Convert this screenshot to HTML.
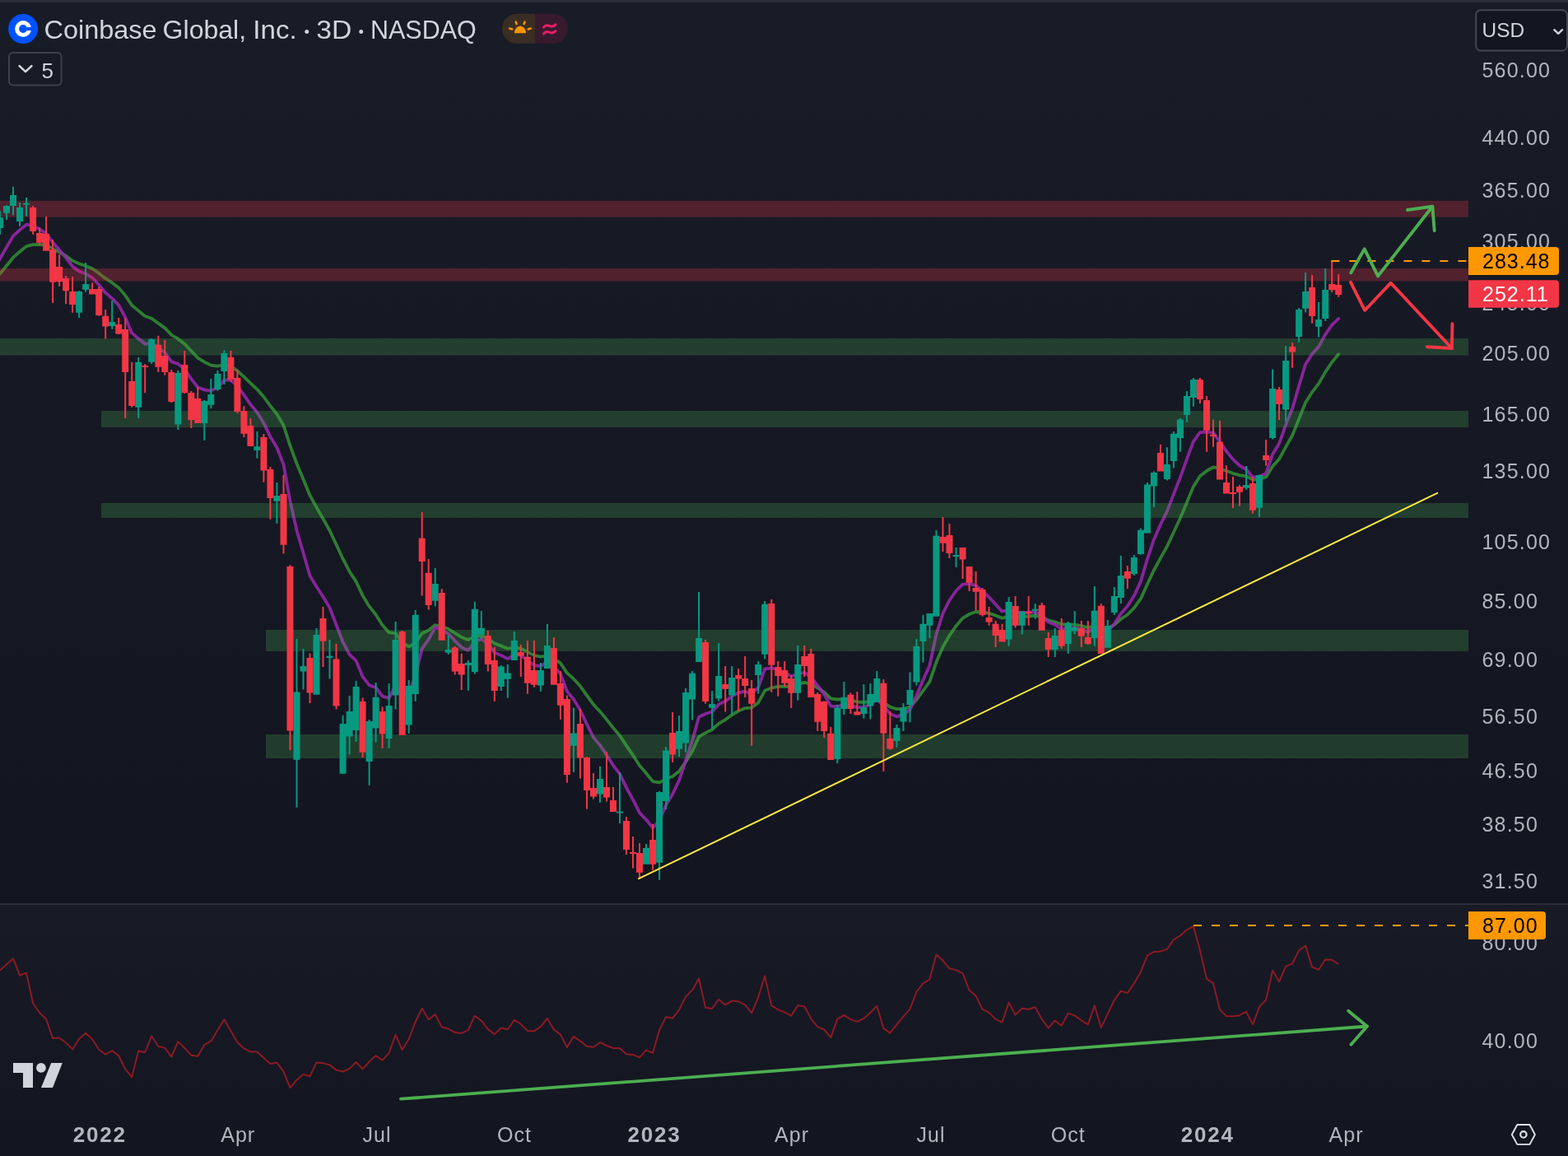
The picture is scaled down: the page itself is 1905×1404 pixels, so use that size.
<!DOCTYPE html>
<html><head><meta charset="utf-8"><title>Coinbase Global, Inc. · 3D · NASDAQ</title>
<style>
html,body{margin:0;padding:0;background:#161a25;overflow:hidden}
svg{display:block}
text{font-family:"Liberation Sans",Arial,sans-serif}
text.sf{font-family:"Liberation Serif",serif}
</style></head><body>
<svg width="1905" height="1404" viewBox="0 0 1905 1404">
<defs>
<linearGradient id="bg1" x1="0" y1="0" x2="0" y2="1"><stop offset="0" stop-color="#181c27"/><stop offset="1" stop-color="#131520"/></linearGradient>
<linearGradient id="bg2" x1="0" y1="0" x2="0" y2="1"><stop offset="0" stop-color="#181b26"/><stop offset="1" stop-color="#131520"/></linearGradient>
<clipPath id="cm"><rect x="0" y="3" width="1784" height="1094"/></clipPath>
<clipPath id="cr"><rect x="0" y="1099" width="1784" height="305"/></clipPath>
</defs>
<rect x="0" y="0" width="1905" height="3" fill="#2a2e39"/>
<rect x="0" y="3" width="1905" height="1094" fill="url(#bg1)"/>
<rect x="0" y="1097" width="1905" height="2" fill="#2a2e39"/>
<rect x="0" y="1099" width="1905" height="305" fill="url(#bg2)"/>

<g clip-path="url(#cm)" fill="none" stroke-linejoin="round" stroke-linecap="round">
<polyline points="-8,342.2 0,332.5 8,322.8 16,312.7 24,305.8 32,299.1 40.1,297.2 48.1,296.9 56.1,297.7 64.1,302.2 72.1,306.2 80.1,310.9 88.1,316.6 96.1,320.3 104.1,322.9 112.1,326.3 120.2,331.9 128.2,338.2 136.2,343.4 144.2,349.4 152.2,358.9 160.2,370.7 168.2,377.4 176.2,384 184.2,386.8 192.3,392.6 200.3,398.4 208.3,406.8 216.3,411.4 224.3,417.7 232.3,426.3 240.3,434.6 248.3,439.7 256.3,443.6 264.4,444.7 272.4,443 280.4,444.9 288.4,450.3 296.4,457.6 304.4,465.5 312.4,472.8 320.4,482 328.4,493 336.4,503 344.5,516.7 352.5,541.4 360.5,563 368.5,582 376.5,601.7 384.5,616.1 392.5,630 400.5,644.2 408.5,661.3 416.6,678.7 424.6,694.1 432.6,706.4 440.6,723.2 448.6,736.4 456.6,746.5 464.6,759.2 472.6,768.2 480.6,769.1 488.7,780.3 496.7,785.4 504.7,781.2 512.7,769.2 520.7,765.5 528.7,759.1 536.7,761 544.7,763.8 552.7,768.9 560.7,773.9 568.8,777.1 576.8,772.9 584.8,771.8 592.8,775.4 600.8,781.5 608.8,784.4 616.8,787.7 624.8,786.7 632.8,787.7 640.9,791.9 648.9,795.9 656.9,797.7 664.9,796.3 672.9,799.8 680.9,805.4 688.9,817.4 696.9,824.4 704.9,833.3 713,844.7 721,855.7 729,864.1 737,873.8 745,884 753,893.4 761,905.6 769,917.2 777,929.7 785,939 793.1,949.1 801.1,950.4 809.1,946.1 817.1,942.9 825.1,936.7 833.1,925.3 841.1,912.2 849.1,894.9 857.1,890.1 865.2,886.2 873.2,878.8 881.2,874.1 889.2,868.3 897.2,863.5 905.2,860.1 913.2,859.6 921.2,853.6 929.2,838.8 937.3,835.4 945.3,833.9 953.3,833.5 961.3,834.3 969.3,831.3 977.3,828.9 985.3,830.8 993.3,835.3 1001.3,840.5 1009.3,848.3 1017.4,849.5 1025.4,849.2 1033.4,850.4 1041.4,852.3 1049.4,853 1057.4,851.9 1065.4,848.9 1073.4,853.1 1081.4,858.6 1089.5,861.2 1097.5,861 1105.5,858.5 1113.5,850 1121.5,839 1129.5,827.8 1137.5,804.3 1145.5,785.8 1153.5,771.9 1161.6,760.2 1169.6,750.8 1177.6,746 1185.6,743 1193.6,743.4 1201.6,744.7 1209.6,747.5 1217.6,750.7 1225.6,748.6 1233.6,749.7 1241.7,749 1249.7,748.5 1257.7,747.6 1265.7,749.5 1273.7,753.4 1281.7,755.4 1289.7,758.3 1297.7,758.2 1305.7,758.6 1313.8,760.1 1321.8,762.3 1329.8,760.1 1337.8,763.5 1345.8,763.1 1353.8,758.8 1361.8,752 1369.8,746.5 1377.8,738.4 1385.9,727.2 1393.9,709.6 1401.9,692.5 1409.9,677.8 1417.9,663.8 1425.9,646.5 1433.9,629.2 1441.9,610.2 1449.9,591.1 1457.9,578.2 1466,572 1474,567.3 1482,568.8 1490,571.9 1498,574.8 1506,577.1 1514,578.4 1522,582.5 1530,581.9 1538.1,579.4 1546.1,566.4 1554.1,557.6 1562.1,542.9 1570.1,528.7 1578.1,509 1586.1,489 1594.1,476.3 1602.1,465.9 1610.2,451.9 1618.2,440 1626.2,430.3" stroke="#2e7d32" stroke-width="3.8"/>
<polyline points="-8,327.8 0,314 8,300.2 16,286.6 24,279.4 32,272.7 40.1,274.3 48.1,278.3 56.1,283.5 64.1,294.5 72.1,303.5 80.1,312.9 88.1,323.6 96.1,329.4 104.1,332.5 112.1,337.3 120.2,346 128.2,355.6 136.2,362.4 144.2,370.6 152.2,385.4 160.2,404.4 168.2,411.2 176.2,417.8 184.2,416.6 192.3,422.3 200.3,428 208.3,439.2 216.3,441.9 224.3,448.7 232.3,460.1 240.3,470.2 248.3,473.5 256.3,474.6 264.4,470.4 272.4,461.7 280.4,461.6 288.4,468.9 296.4,479.7 304.4,491.3 312.4,500.9 320.4,513.9 328.4,530.3 336.4,543.5 344.5,564.1 352.5,608.7 360.5,644.2 368.5,671.4 376.5,699.3 384.5,712.5 392.5,724.7 400.5,738 408.5,758.8 416.6,779.7 424.6,795 432.6,802.4 440.6,822 448.6,832.1 456.6,835 464.6,845.6 472.6,847.8 480.6,832.5 488.7,843.7 496.7,841.6 504.7,820.4 512.7,787.8 520.7,776.6 528.7,762 536.7,765.1 544.7,769.7 552.7,778.4 560.7,786.2 568.8,789.9 576.8,779.3 584.8,775.9 592.8,781.9 600.8,792.6 608.8,795.9 616.8,800.1 624.8,795.6 632.8,795.7 640.9,802.3 648.9,808 656.9,809.2 664.9,804 672.9,809.4 680.9,818.3 688.9,839.6 696.9,849.2 704.9,862.3 713,879.7 721,895.6 729,905.1 737,916.9 745,929.6 753,940.2 761,956.7 769,971.2 777,987.2 785,995.3 793.1,1005.5 801.1,996.4 809.1,977.7 817.1,964.5 825.1,947.8 833.1,923.6 841.1,899.6 849.1,870.8 857.1,867 865.2,864.5 873.2,855.4 881.2,851.6 889.2,845.7 897.2,841.3 905.2,839.7 913.2,842.6 921.2,835.2 929.2,812.4 937.3,811.4 945.3,813.3 953.3,816.6 961.3,821.5 969.3,818.5 977.3,816.6 985.3,822.5 993.3,832.7 1001.3,843 1009.3,857.6 1017.4,858 1025.4,855.8 1033.4,856.8 1041.4,859.1 1049.4,859.1 1057.4,855.8 1065.4,849.2 1073.4,857.1 1081.4,867 1089.5,870.3 1097.5,868.2 1105.5,861.9 1113.5,845.1 1121.5,825.8 1129.5,808 1137.5,770.3 1145.5,745.1 1153.5,729.2 1161.6,717.5 1169.6,709.6 1177.6,709.2 1185.6,711.1 1193.6,718 1201.6,725.2 1209.6,734.1 1217.6,742.7 1225.6,740.3 1233.6,744.1 1241.7,743.8 1249.7,744 1257.7,743.2 1265.7,747.6 1273.7,755.5 1281.7,758.7 1289.7,763.8 1297.7,762.4 1305.7,762.3 1313.8,764.4 1321.8,767.8 1329.8,762.5 1337.8,768.6 1345.8,766.8 1353.8,757.8 1361.8,745.2 1369.8,736.3 1377.8,723.6 1385.9,706.1 1393.9,679.1 1401.9,655.4 1409.9,637.1 1417.9,621.2 1425.9,600.1 1433.9,580 1441.9,557.7 1449.9,536.1 1457.9,525.2 1466,524.7 1474,525.7 1482,536.4 1490,548.1 1498,557.9 1506,565.5 1514,570.1 1522,579.5 1530,579 1538.1,574.9 1546.1,551.7 1554.1,538.6 1562.1,516 1570.1,496.4 1578.1,468.7 1586.1,442.5 1594.1,429.9 1602.1,421.1 1610.2,406.1 1618.2,394.7 1626.2,387" stroke="#9c27b0" stroke-opacity="0.84" stroke-width="3.8"/>
</g>
<rect x="0" y="243.8" width="1784" height="19.9" fill="rgba(242,54,69,0.27)"/>
<rect x="0" y="326" width="1784" height="15.5" fill="rgba(242,54,69,0.27)"/>
<rect x="0" y="411" width="1784" height="20.5" fill="rgba(76,175,80,0.25)"/>
<rect x="123" y="499" width="1661" height="20" fill="rgba(76,175,80,0.25)"/>
<rect x="123" y="611" width="1661" height="18" fill="rgba(76,175,80,0.25)"/>
<rect x="323" y="765" width="1461" height="26" fill="rgba(76,175,80,0.25)"/>
<rect x="323" y="892" width="1461" height="29" fill="rgba(76,175,80,0.25)"/>
<path fill="#089981" d="M-1 256.3h2V284.8h-2ZM7 249.2h2V267h-2ZM15 226.8h2V261.3h-2ZM23 246.1h2V274.8h-2ZM31 239.9h2V262.7h-2ZM95.1 353.2h2V386h-2ZM103.1 319h2V354.6h-2ZM135.2 365.3h2V399.8h-2ZM167.2 434h2V508h-2ZM183.2 411h2V442h-2ZM215.3 450h2V522h-2ZM247.3 486h2V535h-2ZM255.3 460h2V496h-2ZM263.4 450h2V474.7h-2ZM271.4 425.3h2V466.9h-2ZM311.4 524h2V556.7h-2ZM335.4 586h2V635.8h-2ZM359.5 776h2V980.8h-2ZM367.5 788h2V837.5h-2ZM383.5 763h2V843.8h-2ZM399.5 777h2V824.5h-2ZM415.6 868.7h2V939.7h-2ZM423.6 845h2V916.6h-2ZM431.6 827h2V901h-2ZM447.6 874h2V953.8h-2ZM455.6 829h2V901.6h-2ZM471.6 830h2V908.7h-2ZM479.6 755h2V861.6h-2ZM495.7 826h2V891h-2ZM503.7 741h2V851.7h-2ZM527.7 690h2V736.4h-2ZM543.7 772h2V795h-2ZM567.8 802h2V838.8h-2ZM575.8 730.8h2V818.6h-2ZM583.8 742h2V776h-2ZM607.8 808h2V839h-2ZM615.8 807h2V847.8h-2ZM623.8 766.9h2V802h-2ZM655.9 805h2V840h-2ZM663.9 758h2V811.9h-2ZM695.9 859.4h2V937.8h-2ZM728 930.7h2V974.8h-2ZM752 938h2V1000h-2ZM784 1025h2V1049.7h-2ZM800.1 961h2V1068.7h-2ZM808.1 907h2V983h-2ZM824.1 869h2V919h-2ZM832.1 836h2V913.8h-2ZM840.1 815h2V874.6h-2ZM848.1 719h2V804h-2ZM864.2 839h2V886.5h-2ZM872.2 781h2V851.7h-2ZM888.2 809h2V867.4h-2ZM920.2 803h2V842.6h-2ZM928.2 730h2V800.6h-2ZM968.3 784h2V850.8h-2ZM1016.4 856h2V927h-2ZM1024.4 828h2V868h-2ZM1048.4 831h2V872.5h-2ZM1056.4 830h2V873.5h-2ZM1064.4 815h2V853h-2ZM1088.5 880h2V907.7h-2ZM1096.5 854h2V888h-2ZM1104.5 816.5h2V877.6h-2ZM1112.5 776h2V832.5h-2ZM1120.5 747h2V804.7h-2ZM1128.5 745h2V775h-2ZM1136.5 643.7h2V748.8h-2ZM1160.6 664.9h2V689h-2ZM1224.6 725h2V784.7h-2ZM1240.7 742h2V770.6h-2ZM1256.7 733h2V751.8h-2ZM1280.7 763h2V798h-2ZM1296.7 755h2V794h-2ZM1304.7 742h2V770h-2ZM1328.8 712h2V784.8h-2ZM1344.8 753h2V786.7h-2ZM1352.8 713h2V746.9h-2ZM1360.8 674.8h2V733h-2ZM1376.8 674h2V699h-2ZM1384.9 641.4h2V673.7h-2ZM1392.9 586h2V647.8h-2ZM1400.9 572.6h2V616h-2ZM1416.9 543.3h2V583.6h-2ZM1424.9 524h2V568.6h-2ZM1432.9 508h2V548.7h-2ZM1440.9 475h2V512.8h-2ZM1448.9 459h2V493.8h-2ZM1513 566h2V594.8h-2ZM1529 576.4h2V627.9h-2ZM1545.1 448.5h2V533.6h-2ZM1561.1 420h2V512h-2ZM1577.1 374h2V415.7h-2ZM1585.1 331h2V379.6h-2ZM1601.1 367h2V409.6h-2ZM1609.2 326h2V390h-2ZM-4 264.2h8V277h-8ZM4 249.9h8V258.7h-8ZM12 237.1h8V249.9h-8ZM20 252.1h8V268.9h-8ZM28 246.8h8V248.8h-8ZM92.1 353.9h8V379.8h-8ZM100.1 345.1h8V351.8h-8ZM132.2 390.9h8V395.9h-8ZM164.2 439.8h8V494.7h-8ZM180.2 412h8V439.8h-8ZM212.3 453h8V515.6h-8ZM244.3 487h8V514h-8ZM252.3 479h8V491.8h-8ZM260.4 454h8V473h-8ZM268.4 429h8V451h-8ZM308.4 542.3h8V547h-8ZM332.4 602h8V608.7h-8ZM356.5 840.5h8V922.8h-8ZM364.5 809h8V815.6h-8ZM380.5 771h8V843.8h-8ZM396.5 796.8h8V799h-8ZM412.6 879h8V939.7h-8ZM420.6 864h8V894.5h-8ZM428.6 834h8V887h-8ZM444.6 876h8V925h-8ZM452.6 846.8h8V884.5h-8ZM468.6 857h8V897h-8ZM476.6 777h8V844.4h-8ZM492.7 833h8V880.6h-8ZM500.7 746.7h8V843h-8ZM524.7 709h8V729.8h-8ZM540.7 789h8V792.8h-8ZM564.8 805h8V808h-8ZM572.8 739.7h8V816h-8ZM580.8 762.8h8V770.7h-8ZM604.8 809.5h8V834h-8ZM612.8 817.4h8V824.8h-8ZM620.8 778h8V802h-8ZM652.9 814h8V832.6h-8ZM660.9 784h8V811.9h-8ZM692.9 890.4h8V905.7h-8ZM725 946h8V964.4h-8ZM749 985.5h8V987.5h-8ZM781 1030h8V1049.7h-8ZM797.1 962h8V1047.7h-8ZM805.1 911.6h8V973h-8ZM821.1 888h8V909.7h-8ZM829.1 841h8V902.4h-8ZM837.1 817.7h8V849.4h-8ZM845.1 775h8V804h-8ZM861.2 855h8V859.8h-8ZM869.2 821h8V848.6h-8ZM885.2 823h8V844.5h-8ZM917.2 807h8V820h-8ZM925.2 733.7h8V794.8h-8ZM965.3 807h8V841.8h-8ZM1013.4 859.8h8V922h-8ZM1021.4 846.8h8V861h-8ZM1045.4 859h8V867h-8ZM1053.4 843h8V857.5h-8ZM1061.4 824h8V853h-8ZM1085.5 884h8V900h-8ZM1093.5 859.8h8V876.5h-8ZM1101.5 838h8V856h-8ZM1109.5 785h8V828.6h-8ZM1117.5 757.8h8V779h-8ZM1125.5 745h8V759.7h-8ZM1133.5 650.8h8V748.8h-8ZM1157.6 674.1h8V676.1h-8ZM1221.6 731h8V776.4h-8ZM1237.7 742.8h8V759.7h-8ZM1253.7 739.8h8V741.8h-8ZM1277.7 772h8V789h-8ZM1293.7 757h8V782h-8ZM1301.7 762h8V766.6h-8ZM1325.8 741.8h8V775h-8ZM1341.8 760h8V786.7h-8ZM1349.8 724h8V744h-8ZM1357.8 699h8V725.9h-8ZM1373.8 677h8V697h-8ZM1381.9 643.8h8V673h-8ZM1389.9 588.6h8V647.4h-8ZM1397.9 574h8V590.6h-8ZM1413.9 564h8V582h-8ZM1421.9 526.8h8V560h-8ZM1429.9 509.4h8V532h-8ZM1437.9 481h8V504h-8ZM1445.9 461h8V482.9h-8ZM1510 589h8V592.6h-8ZM1526 577h8V616.8h-8ZM1542.1 472h8V532h-8ZM1558.1 438h8V497.6h-8ZM1574.1 375.9h8V409h-8ZM1582.1 354h8V374.7h-8ZM1598.1 388h8V396.8h-8ZM1606.2 352h8V387h-8Z"/>
<path fill="#f23645" d="M39.1 249.9h2V284.8h-2ZM47.1 276.3h2V298.1h-2ZM55.1 262.7h2V304.8h-2ZM63.1 291.2h2V368.1h-2ZM71.1 309h2V347.9h-2ZM79.1 335.1h2V368.9h-2ZM87.1 336.1h2V379.8h-2ZM111.1 343.2h2V357.5h-2ZM119.2 348.2h2V383.8h-2ZM127.2 376h2V411.6h-2ZM143.2 386h2V406h-2ZM151.2 386h2V508h-2ZM159.2 439.8h2V494.7h-2ZM175.2 442h2V476.9h-2ZM191.3 407.8h2V452h-2ZM199.3 413h2V455.8h-2ZM207.3 449h2V489h-2ZM223.3 425.9h2V478h-2ZM231.3 475h2V519.9h-2ZM239.3 470h2V514h-2ZM279.4 425.9h2V463.8h-2ZM287.4 449h2V501.8h-2ZM295.4 493.3h2V531h-2ZM303.4 508h2V541.9h-2ZM319.4 527h2V585.7h-2ZM327.4 567h2V630.7h-2ZM343.5 577h2V672.6h-2ZM351.5 686.3h2V911h-2ZM375.5 793.5h2V854h-2ZM391.5 737h2V810h-2ZM407.5 782h2V861.6h-2ZM439.6 847.5h2V920h-2ZM463.6 858.6h2V908.7h-2ZM487.7 766h2V893h-2ZM511.7 622h2V723.6h-2ZM519.7 679h2V740.5h-2ZM535.7 715h2V777.7h-2ZM551.7 785h2V819.6h-2ZM559.7 793.8h2V838h-2ZM591.8 766h2V815.5h-2ZM599.8 786h2V851.7h-2ZM631.8 783h2V821.9h-2ZM639.9 778h2V842.8h-2ZM647.9 778h2V834.8h-2ZM671.9 774h2V831.7h-2ZM679.9 815h2V873.7h-2ZM687.9 844.6h2V950.7h-2ZM703.9 861h2V945.6h-2ZM712 919h2V982.6h-2ZM720 939h2V970.6h-2ZM736 913h2V973.5h-2ZM744 956h2V986h-2ZM760 992h2V1038h-2ZM768 1016h2V1054.6h-2ZM776 1024h2V1066.7h-2ZM792.1 1001h2V1056.7h-2ZM816.1 865h2V926h-2ZM856.1 777h2V854.8h-2ZM880.2 809h2V864.6h-2ZM896.2 812h2V863.8h-2ZM904.2 797h2V847h-2ZM912.2 826h2V905.7h-2ZM936.3 728h2V840.7h-2ZM944.3 803h2V845.8h-2ZM952.3 803h2V834h-2ZM960.3 820h2V859.9h-2ZM976.3 784h2V822h-2ZM984.3 788h2V847h-2ZM992.3 841h2V887.8h-2ZM1000.3 851.4h2V896h-2ZM1008.3 883h2V923h-2ZM1032.4 841.6h2V867h-2ZM1040.4 840h2V868.4h-2ZM1072.4 825h2V936.9h-2ZM1080.4 864h2V910.7h-2ZM1144.5 628h2V670h-2ZM1152.5 636h2V678h-2ZM1168.6 664.9h2V703h-2ZM1176.6 688h2V718h-2ZM1184.6 694h2V741h-2ZM1192.6 714h2V748.8h-2ZM1200.6 737h2V759.7h-2ZM1208.6 754h2V786h-2ZM1216.6 757.8h2V779.6h-2ZM1232.6 724h2V762.6h-2ZM1248.7 724h2V759.7h-2ZM1264.7 732h2V765.8h-2ZM1272.7 768h2V798h-2ZM1288.7 751h2V787.7h-2ZM1312.8 754h2V786h-2ZM1320.8 754h2V782.9h-2ZM1336.8 733h2V794h-2ZM1368.8 687h2V715h-2ZM1408.9 539.7h2V572.6h-2ZM1456.9 459h2V489.9h-2ZM1465 481h2V548.7h-2ZM1473 509.8h2V542.7h-2ZM1481 510.8h2V582.6h-2ZM1489 565h2V599.6h-2ZM1497 579h2V617h-2ZM1505 589h2V614.9h-2ZM1521 579h2V623.8h-2ZM1537.1 534h2V565.7h-2ZM1553.1 470h2V510h-2ZM1569.1 416h2V446.8h-2ZM1593.1 334h2V392.8h-2ZM1617.2 316.9h2V355h-2ZM1625.2 333h2V360.8h-2ZM36.1 252.1h8V281h-8ZM44.1 283h8V294.8h-8ZM52.1 284.1h8V304.8h-8ZM60.1 303.3h8V342.8h-8ZM68.1 324h8V342.2h-8ZM76.1 337.9h8V353.2h-8ZM84.1 353.9h8V369.9h-8ZM108.1 351.1h8V357.5h-8ZM116.2 351.1h8V383.1h-8ZM124.2 383.8h8V396.6h-8ZM140.2 394h8V405.6h-8ZM148.2 400h8V452h-8ZM156.2 463h8V493h-8ZM172.2 443.9h8V445.9h-8ZM188.3 418.7h8V445.8h-8ZM196.3 432h8V452h-8ZM204.3 452h8V488h-8ZM220.3 443h8V477h-8ZM228.3 476.9h8V510h-8ZM236.3 484h8V514h-8ZM276.4 433.8h8V461h-8ZM284.4 459h8V500h-8ZM292.4 499h8V526.7h-8ZM300.4 517h8V541.9h-8ZM316.4 531h8V571.6h-8ZM324.4 570h8V605h-8ZM340.5 600h8V661.7h-8ZM348.5 688h8V887.5h-8ZM372.5 799h8V841.5h-8ZM388.5 751h8V778.7h-8ZM404.5 800.5h8V857.4h-8ZM436.6 852h8V913.8h-8ZM460.6 864h8V891.5h-8ZM484.7 767h8V893h-8ZM508.7 653.8h8V681.9h-8ZM516.7 695.7h8V735h-8ZM532.7 719.9h8V777.7h-8ZM548.7 786.6h8V815.5h-8ZM556.7 806h8V819.6h-8ZM588.8 772h8V807h-8ZM596.8 802h8V839h-8ZM628.8 792h8V796.5h-8ZM636.9 797.8h8V829.8h-8ZM644.9 814h8V831.7h-8ZM668.9 787h8V831.7h-8ZM676.9 830h8V856.7h-8ZM684.9 849h8V941h-8ZM700.9 879h8V920.6h-8ZM709 920h8V960h-8ZM717 957h8V967.4h-8ZM733 956h8V968.6h-8ZM741 972h8V986h-8ZM757 997h8V1032h-8ZM765 1035h8V1037h-8ZM773 1036h8V1059.7h-8ZM789.1 1020h8V1049.7h-8ZM813.1 890h8V916.5h-8ZM853.1 780h8V852h-8ZM877.2 830.9h8V836.7h-8ZM893.2 820h8V824.6h-8ZM901.2 824h8V833h-8ZM909.2 836h8V854.8h-8ZM933.3 733h8V807.8h-8ZM941.3 810h8V821h-8ZM949.3 814h8V829.8h-8ZM957.3 824h8V841.8h-8ZM973.3 797h8V809h-8ZM981.3 794h8V847h-8ZM989.3 843h8V876.8h-8ZM997.3 852h8V888h-8ZM1005.3 890.8h8V923h-8ZM1029.4 843.8h8V861h-8ZM1037.4 864.3h8V868.4h-8ZM1069.4 829.7h8V890.8h-8ZM1077.4 897h8V909.5h-8ZM1141.5 652h8V659.7h-8ZM1149.5 650h8V672h-8ZM1165.6 665h8V679.6h-8ZM1173.6 688h8V707.8h-8ZM1181.6 714h8V718.7h-8ZM1189.6 716h8V747h-8ZM1197.6 750h8V755.6h-8ZM1205.6 757.8h8V772h-8ZM1213.6 765h8V779.6h-8ZM1229.6 736h8V759.7h-8ZM1245.7 743h8V745h-8ZM1261.7 735h8V765.8h-8ZM1269.7 775h8V789h-8ZM1285.7 765h8V784.8h-8ZM1309.8 763h8V772.8h-8ZM1317.8 774h8V782h-8ZM1333.8 735.8h8V794h-8ZM1365.8 694h8V702.7h-8ZM1405.9 550h8V572.6h-8ZM1453.9 461h8V484.9h-8ZM1462 485.9h8V522.8h-8ZM1470 527.8h8V529.8h-8ZM1478 536.7h8V582.6h-8ZM1486 586h8V599.6h-8ZM1494 598h8V600h-8ZM1502 591h8V597.8h-8ZM1518 587h8V619.8h-8ZM1534.1 553h8V558.9h-8ZM1550.1 473h8V491h-8ZM1566.1 421h8V427.6h-8ZM1590.1 349h8V384h-8ZM1614.2 345h8V352.3h-8ZM1622.2 346h8V357.9h-8Z"/>
<line x1="776" y1="1067.2" x2="1746.2" y2="598.8" stroke="#ffeb3b" stroke-width="2" stroke-linecap="round"/>
<line x1="1617.4" y1="317" x2="1784" y2="317" stroke="#ff9800" stroke-width="2" stroke-dasharray="10 12"/>
<g fill="none" stroke-width="3.9" stroke-linecap="round" stroke-linejoin="round">
<polyline points="1641.3,331.2 1657.7,302.4 1674.1,335.4 1740.3,250.7" stroke="#4caf50"/>
<polyline points="1710,255 1740.3,250.7 1742.7,280.2" stroke="#4caf50"/>
<polyline points="1641,342.8 1658.1,377 1689.7,343.7 1763.8,423" stroke="#f23645"/>
<polyline points="1733.9,421.2 1763.8,423 1764.5,393.1" stroke="#f23645"/>
</g>
<polyline clip-path="url(#cr)" points="0,1178.5 8,1171.3 16,1164.2 24,1184.7 32,1181.5 40.1,1218.5 48.1,1230 56.1,1237.7 64.1,1261 72.1,1260.5 80.1,1266.3 88.1,1274.4 96.1,1261.8 104.1,1254.8 112.1,1262 120.2,1274.8 128.2,1280.6 136.2,1276 144.2,1282.4 152.2,1298.4 160.2,1308.3 168.2,1276.3 176.2,1278.2 184.2,1258.2 192.3,1270.7 200.3,1272.8 208.3,1283.5 216.3,1265.1 224.3,1272.7 232.3,1281.7 240.3,1282.7 248.3,1268.9 256.3,1264.7 264.4,1251.3 272.4,1238.1 280.4,1252.3 288.4,1265.8 296.4,1273.4 304.4,1277.3 312.4,1277.4 320.4,1284.8 328.4,1292 336.4,1290.6 344.5,1301.3 352.5,1321 360.5,1311.7 368.5,1304.7 376.5,1307.3 384.5,1290.4 392.5,1291.3 400.5,1293.4 408.5,1299.6 416.6,1301.5 424.6,1297.9 432.6,1290 440.6,1298.3 448.6,1289.5 456.6,1282.1 464.6,1287.6 472.6,1278.8 480.6,1256.8 488.7,1275 496.7,1261.9 504.7,1241.2 512.7,1224.8 520.7,1238.4 528.7,1232 536.7,1247.2 544.7,1249.3 552.7,1254.1 560.7,1254.8 568.8,1251.1 576.8,1233.7 584.8,1239.7 592.8,1249.9 600.8,1256.1 608.8,1248.5 616.8,1250.3 624.8,1238.9 632.8,1243.9 640.9,1252 648.9,1252.4 656.9,1246.8 664.9,1236.8 672.9,1250.5 680.9,1256.4 688.9,1272 696.9,1258.8 704.9,1264.4 713,1270.7 721,1271.8 729,1266 737,1270 745,1272.9 753,1272.9 761,1280.3 769,1280.9 777,1284.3 785,1275.4 793.1,1278.8 801.1,1251.1 809.1,1234.9 817.1,1236.5 825.1,1226.6 833.1,1210.4 841.1,1202.4 849.1,1188.2 857.1,1223.8 865.2,1224.9 873.2,1213.8 881.2,1220.4 889.2,1215.6 897.2,1216.3 905.2,1220.4 913.2,1230.4 921.2,1211.3 929.2,1185.4 937.3,1221.4 945.3,1226.2 953.3,1229.4 961.3,1233.7 969.3,1221.3 977.3,1222.2 985.3,1237.3 993.3,1247.1 1001.3,1250.5 1009.3,1260.1 1017.4,1237.6 1025.4,1232.8 1033.4,1238.1 1041.4,1240.8 1049.4,1236.9 1057.4,1230 1065.4,1221.7 1073.4,1248.9 1081.4,1254.6 1089.5,1244.5 1097.5,1234.6 1105.5,1225.6 1113.5,1204.6 1121.5,1194.4 1129.5,1189.6 1137.5,1159.5 1145.5,1166.6 1153.5,1176.2 1161.6,1178.1 1169.6,1182.2 1177.6,1202.6 1185.6,1209.6 1193.6,1225.6 1201.6,1229.9 1209.6,1237.9 1217.6,1241.5 1225.6,1217.6 1233.6,1232.6 1241.7,1224.7 1249.7,1225.7 1257.7,1223.3 1265.7,1237.7 1273.7,1248.6 1281.7,1239.5 1289.7,1245.7 1297.7,1230.6 1305.7,1233.4 1313.8,1239.4 1321.8,1244.4 1329.8,1221.2 1337.8,1248.1 1345.8,1231.4 1353.8,1214.7 1361.8,1203.6 1369.8,1206.1 1377.8,1194.4 1385.9,1180.4 1393.9,1160.7 1401.9,1156.1 1409.9,1155.6 1417.9,1152.7 1425.9,1141.1 1433.9,1136.4 1441.9,1129.3 1449.9,1124.8 1457.9,1154.3 1466,1188.9 1474,1194.2 1482,1226.2 1490,1234.1 1498,1234.3 1506,1233.2 1514,1228.6 1522,1244.3 1530,1222.9 1538.1,1214.3 1546.1,1178.8 1554.1,1192.3 1562.1,1173.7 1570.1,1170.3 1578.1,1154.5 1586.1,1148.6 1594.1,1174.6 1602.1,1177.7 1610.2,1165.5 1618.2,1165.8 1626.2,1171" fill="none" stroke="#8c1a24" stroke-width="2" stroke-linejoin="round"/>
<line x1="1450" y1="1124" x2="1784" y2="1124" stroke="#ff9800" stroke-width="2" stroke-dasharray="10 12"/>
<g fill="none" stroke="#4caf50" stroke-width="3.8" stroke-linecap="round" stroke-linejoin="round"><line x1="487" y1="1334.7" x2="1660.9" y2="1246.5"/><polyline points="1638.1,1227.7 1660.9,1246.5 1641.3,1268.7"/></g>
<g font-size="25" fill="#b2b5be" letter-spacing="1.2">
<text x="1800.5" y="93.6">560.00</text>
<text x="1800.5" y="176.1">440.00</text>
<text x="1800.5" y="240.1">365.00</text>
<text x="1800.5" y="301.6">305.00</text>
<text x="1800.5" y="376.6">245.00</text>
<text x="1800.5" y="437.6">205.00</text>
<text x="1800.5" y="511.9">165.00</text>
<text x="1800.5" y="580.6">135.00</text>
<text x="1800.5" y="666.6">105.00</text>
<text x="1800.5" y="738.9">85.00</text>
<text x="1800.5" y="810.3">69.00</text>
<text x="1800.5" y="878.7">56.50</text>
<text x="1800.5" y="945.4">46.50</text>
<text x="1800.5" y="1010">38.50</text>
<text x="1800.5" y="1078.7">31.50</text>
<text x="1800.5" y="1154.2">80.00</text>
<text x="1800.5" y="1273.2">40.00</text>
</g>
<path d="M1784 300h106a4 4 0 0 1 4 4v26a4 4 0 0 1-4 4h-106z" fill="#ff9800"/>
<path d="M1784 340.2h106a4 4 0 0 1 4 4v25.6a4 4 0 0 1-4 4h-106z" fill="#f23645"/>
<path d="M1784 1107h90a4 4 0 0 1 4 4v26a4 4 0 0 1-4 4h-90z" fill="#ff9800"/>
<g font-size="25" letter-spacing="1.0">
<text x="1801" y="326.3" fill="#000">283.48</text>
<text x="1801" y="365.6" fill="#fff">252.11</text>
<text x="1801" y="1132.6" fill="#000">87.00</text>
</g>
<text x="121.2" y="1387.3" font-size="26" font-weight="bold" fill="#b2b5be" text-anchor="middle" letter-spacing="1.8">2022</text>
<text x="289.2" y="1387.1" font-size="25" fill="#b2b5be" text-anchor="middle" letter-spacing="1">Apr</text>
<text x="458" y="1387.1" font-size="25" fill="#b2b5be" text-anchor="middle" letter-spacing="1">Jul</text>
<text x="625" y="1387.1" font-size="25" fill="#b2b5be" text-anchor="middle" letter-spacing="1">Oct</text>
<text x="794.9" y="1387.3" font-size="26" font-weight="bold" fill="#b2b5be" text-anchor="middle" letter-spacing="1.8">2023</text>
<text x="962" y="1387.1" font-size="25" fill="#b2b5be" text-anchor="middle" letter-spacing="1">Apr</text>
<text x="1131" y="1387.1" font-size="25" fill="#b2b5be" text-anchor="middle" letter-spacing="1">Jul</text>
<text x="1297.8" y="1387.1" font-size="25" fill="#b2b5be" text-anchor="middle" letter-spacing="1">Oct</text>
<text x="1467.3" y="1387.3" font-size="26" font-weight="bold" fill="#b2b5be" text-anchor="middle" letter-spacing="1.8">2024</text>
<text x="1635.5" y="1387.1" font-size="25" fill="#b2b5be" text-anchor="middle" letter-spacing="1">Apr</text>
<g fill="none" stroke="#e0e3eb" stroke-width="1.9" stroke-linejoin="round"><path d="M1843.3 1366h15.2l6.4 12-6.4 11.9h-15.2l-6.5-11.9z"/><circle cx="1850.9" cy="1377.9" r="3.7" stroke-width="2.2"/></g>
<g fill="#d1d4dc"><path d="M16 1291H40V1321H28V1303H16Z"/><circle cx="49.9" cy="1296.9" r="5.9"/><path d="M62.2 1291H75.8L64 1321H50Z"/></g>
<circle cx="28.1" cy="35" r="18" fill="#0052ff"/>
<circle cx="28.1" cy="35" r="7.5" fill="none" stroke="#fff" stroke-width="5"/>
<rect x="32.5" y="33" width="6.5" height="4.2" fill="#0052ff"/>
<g font-size="32" fill="#d1d4dc">
<text x="365.7" y="52.7" font-size="42" class="sf">·</text><text x="431.8" y="52.7" font-size="42" class="sf">·</text>
<text x="53.6" y="46.8" textLength="137" lengthAdjust="spacingAndGlyphs">Coinbase</text>
<text x="197.6" y="46.8" textLength="101.5" lengthAdjust="spacingAndGlyphs">Global,</text>
<text x="307.3" y="46.8" textLength="53.3" lengthAdjust="spacingAndGlyphs">Inc.</text>
<text x="384.2" y="46.8" textLength="43.2" lengthAdjust="spacingAndGlyphs">3D</text>
<text x="450" y="46.8" textLength="128.8" lengthAdjust="spacingAndGlyphs">NASDAQ</text>
</g>
<path d="M628 16.8h22v36h-22a18 18 0 0 1 0-36z" fill="#3a2e24"/>
<path d="M650 16.8h22a18 18 0 0 1 0 36h-22z" fill="#371a2e"/>
<g fill="none" stroke="#f89400" stroke-width="2.6" stroke-linecap="round"><path d="M626.6 26.6l1 2.4M637.6 26.6l-1 2.4M619.2 34.5l3 0.9M644.7 34.5l-3 0.9"/></g>
<path d="M625 40.2a7 8.6 0 0 1 14 0z" fill="#f89400"/>
<g fill="none" stroke="#e91e63" stroke-width="3" stroke-linecap="round"><path d="M660.5 33.2c2-2.6 4.5-3 7-1.8s5 1.2 7.5-1.6"/><path d="M660.5 41c2-2.6 4.5-3 7-1.8s5 1.2 7.5-1.6"/></g>
<rect x="11" y="64.1" width="63.6" height="39.4" rx="4.8" fill="none" stroke="#3d414c" stroke-width="2"/>
<path d="M23.5 80l7.5 7 7.5-7" fill="none" stroke="#d1d4dc" stroke-width="2.4" stroke-linecap="round" stroke-linejoin="round"/>
<text x="50.5" y="95" font-size="26" fill="#d1d4dc">5</text>
<rect x="1793.2" y="12.3" width="110.8" height="49.3" rx="6" fill="#131620" stroke="#444751" stroke-width="2"/>
<text x="1800.6" y="45.4" font-size="24.4" fill="#d1d4dc">USD</text>
<path d="M1888.3 36.2l4.9 4.6 4.9-4.6" fill="none" stroke="#d1d4dc" stroke-width="2.4" stroke-linecap="round" stroke-linejoin="round"/>
</svg></body></html>
